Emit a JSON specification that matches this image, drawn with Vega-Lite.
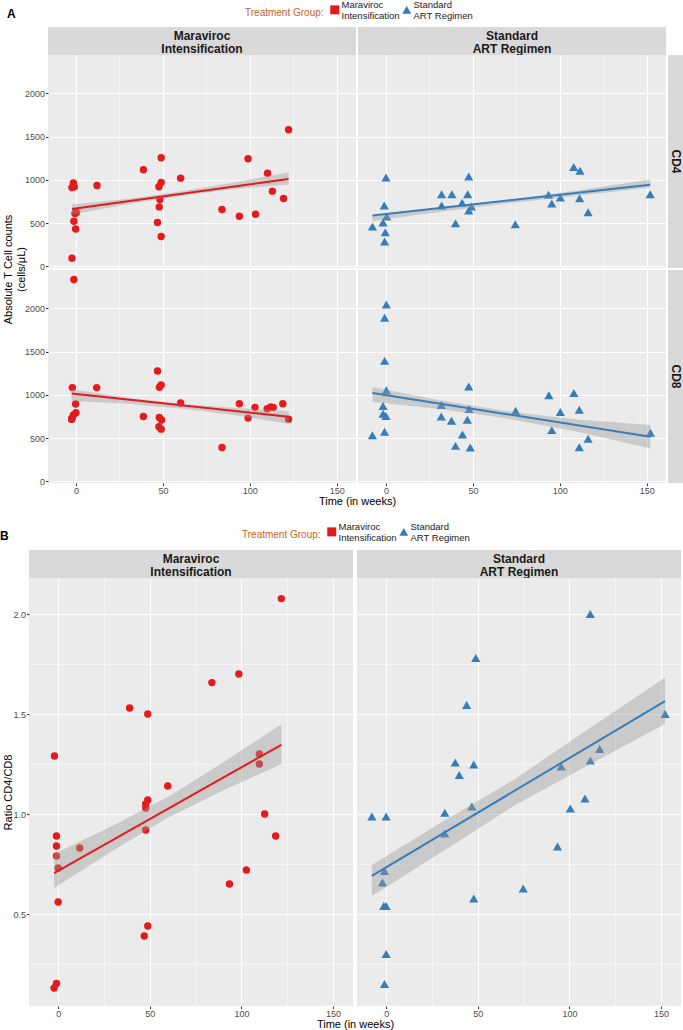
{
  "$schema": "https://vega.github.io/schema/vega-lite/v6.json",
  "padding": {"top": 5, "left": 0, "right": 0, "bottom": 0},
  "background": "#ffffff",
  "datasets": {
    "groups": [{"g": "MVC"}, {"g": "ART"}],
    "cd": [
      {"g":"MVC","c":"CD4","w":-1.5,"v":965},{"g":"MVC","c":"CD4","w":-2.3,"v":911},{"g":"MVC","c":"CD4","w":-1,"v":919},{"g":"MVC","c":"CD4","w":-0.6,"v":610},{"g":"MVC","c":"CD4","w":0.2,"v":622},{"g":"MVC","c":"CD4","w":-1.2,"v":521},{"g":"MVC","c":"CD4","w":-0.2,"v":432},{"g":"MVC","c":"CD4","w":-2.3,"v":93},{"g":"MVC","c":"CD4","w":12.1,"v":934},{"g":"MVC","c":"CD4","w":38.8,"v":1116},{"g":"MVC","c":"CD4","w":49,"v":1255},{"g":"MVC","c":"CD4","w":49,"v":969},{"g":"MVC","c":"CD4","w":47.7,"v":919},{"g":"MVC","c":"CD4","w":48.3,"v":772},{"g":"MVC","c":"CD4","w":47.9,"v":687},{"g":"MVC","c":"CD4","w":46.9,"v":506},{"g":"MVC","c":"CD4","w":49,"v":344},{"g":"MVC","c":"CD4","w":60.2,"v":1019},{"g":"MVC","c":"CD4","w":84,"v":656},{"g":"MVC","c":"CD4","w":99,"v":1243},{"g":"MVC","c":"CD4","w":94,"v":579},{"g":"MVC","c":"CD4","w":103.3,"v":602},{"g":"MVC","c":"CD4","w":110.2,"v":1077},{"g":"MVC","c":"CD4","w":113,"v":869},{"g":"MVC","c":"CD4","w":119.4,"v":784},{"g":"MVC","c":"CD4","w":122.3,"v":1579},
      {"g":"MVC","c":"CD8","w":-1.2,"v":2332},{"g":"MVC","c":"CD8","w":-2.1,"v":1083},{"g":"MVC","c":"CD8","w":11.9,"v":1083},{"g":"MVC","c":"CD8","w":-0.2,"v":894},{"g":"MVC","c":"CD8","w":0,"v":793},{"g":"MVC","c":"CD8","w":-1.5,"v":766},{"g":"MVC","c":"CD8","w":-2.5,"v":716},{"g":"MVC","c":"CD8","w":-2.3,"v":730},{"g":"MVC","c":"CD8","w":38.8,"v":750},{"g":"MVC","c":"CD8","w":46.9,"v":1276},{"g":"MVC","c":"CD8","w":48,"v":1087},{"g":"MVC","c":"CD8","w":49,"v":1114},{"g":"MVC","c":"CD8","w":47.9,"v":739},{"g":"MVC","c":"CD8","w":49.2,"v":708},{"g":"MVC","c":"CD8","w":47.7,"v":630},{"g":"MVC","c":"CD8","w":49,"v":603},{"g":"MVC","c":"CD8","w":60.2,"v":905},{"g":"MVC","c":"CD8","w":84,"v":391},{"g":"MVC","c":"CD8","w":94,"v":897},{"g":"MVC","c":"CD8","w":99,"v":731},{"g":"MVC","c":"CD8","w":103,"v":855},{"g":"MVC","c":"CD8","w":110,"v":839},{"g":"MVC","c":"CD8","w":112,"v":859},{"g":"MVC","c":"CD8","w":113.5,"v":855},{"g":"MVC","c":"CD8","w":119,"v":897},{"g":"MVC","c":"CD8","w":122.3,"v":719},
      {"g":"ART","c":"CD4","w":0,"v":1027},{"g":"ART","c":"CD4","w":-7.8,"v":459},{"g":"ART","c":"CD4","w":-1,"v":703},{"g":"ART","c":"CD4","w":0.4,"v":575},{"g":"ART","c":"CD4","w":-1.7,"v":506},{"g":"ART","c":"CD4","w":-0.4,"v":394},{"g":"ART","c":"CD4","w":-0.8,"v":286},{"g":"ART","c":"CD4","w":32,"v":834},{"g":"ART","c":"CD4","w":37.9,"v":834},{"g":"ART","c":"CD4","w":32,"v":703},{"g":"ART","c":"CD4","w":40,"v":498},{"g":"ART","c":"CD4","w":47.6,"v":1039},{"g":"ART","c":"CD4","w":47,"v":834},{"g":"ART","c":"CD4","w":43.8,"v":734},{"g":"ART","c":"CD4","w":49.1,"v":691},{"g":"ART","c":"CD4","w":47.6,"v":645},{"g":"ART","c":"CD4","w":74.4,"v":486},{"g":"ART","c":"CD4","w":93.5,"v":826},{"g":"ART","c":"CD4","w":95.4,"v":726},{"g":"ART","c":"CD4","w":100.3,"v":795},{"g":"ART","c":"CD4","w":108,"v":1147},{"g":"ART","c":"CD4","w":111.6,"v":1104},{"g":"ART","c":"CD4","w":111.4,"v":788},{"g":"ART","c":"CD4","w":116.3,"v":625},{"g":"ART","c":"CD4","w":152,"v":834},
      {"g":"ART","c":"CD8","w":0.2,"v":2042},{"g":"ART","c":"CD8","w":-0.8,"v":1891},{"g":"ART","c":"CD8","w":-0.8,"v":1392},{"g":"ART","c":"CD8","w":0.2,"v":1052},{"g":"ART","c":"CD8","w":-1.7,"v":870},{"g":"ART","c":"CD8","w":-1.7,"v":781},{"g":"ART","c":"CD8","w":0,"v":754},{"g":"ART","c":"CD8","w":-0.8,"v":572},{"g":"ART","c":"CD8","w":-7.8,"v":534},{"g":"ART","c":"CD8","w":31.8,"v":882},{"g":"ART","c":"CD8","w":31.8,"v":750},{"g":"ART","c":"CD8","w":37.7,"v":700},{"g":"ART","c":"CD8","w":44,"v":542},{"g":"ART","c":"CD8","w":40,"v":410},{"g":"ART","c":"CD8","w":47.6,"v":1095},{"g":"ART","c":"CD8","w":47.8,"v":835},{"g":"ART","c":"CD8","w":46.8,"v":712},{"g":"ART","c":"CD8","w":48.5,"v":391},{"g":"ART","c":"CD8","w":74.6,"v":816},{"g":"ART","c":"CD8","w":93.7,"v":994},{"g":"ART","c":"CD8","w":95.4,"v":592},{"g":"ART","c":"CD8","w":100.3,"v":801},{"g":"ART","c":"CD8","w":108.1,"v":1021},{"g":"ART","c":"CD8","w":111.2,"v":828},{"g":"ART","c":"CD8","w":111.2,"v":395},{"g":"ART","c":"CD8","w":116.3,"v":491},{"g":"ART","c":"CD8","w":152.1,"v":561}
    ],
    "ratio": [
      {"g":"MVC","w":121.8,"r":2.077},{"g":"MVC","w":98.6,"r":1.70},{"g":"MVC","w":83.9,"r":1.657},{"g":"MVC","w":39,"r":1.53},{"g":"MVC","w":48.9,"r":1.50},{"g":"MVC","w":-2,"r":1.29},{"g":"MVC","w":109.8,"r":1.30},{"g":"MVC","w":109.8,"r":1.25},{"g":"MVC","w":59.8,"r":1.14},{"g":"MVC","w":48.9,"r":1.07},{"g":"MVC","w":47.8,"r":1.05},{"g":"MVC","w":47.8,"r":1.03},{"g":"MVC","w":112.7,"r":1.00},{"g":"MVC","w":-0.9,"r":0.89},{"g":"MVC","w":-0.9,"r":0.84},{"g":"MVC","w":-0.9,"r":0.79},{"g":"MVC","w":0,"r":0.73},{"g":"MVC","w":11.8,"r":0.83},{"g":"MVC","w":47.8,"r":0.92},{"g":"MVC","w":118.7,"r":0.89},{"g":"MVC","w":102.7,"r":0.72},{"g":"MVC","w":93.5,"r":0.65},{"g":"MVC","w":0,"r":0.56},{"g":"MVC","w":48.9,"r":0.44},{"g":"MVC","w":47,"r":0.39},{"g":"MVC","w":-0.9,"r":0.153},{"g":"MVC","w":-2.2,"r":0.13},
      {"g":"ART","w":111.4,"r":2.00},{"g":"ART","w":48.9,"r":1.78},{"g":"ART","w":43.9,"r":1.545},{"g":"ART","w":152.2,"r":1.50},{"g":"ART","w":37.7,"r":1.257},{"g":"ART","w":47.8,"r":1.247},{"g":"ART","w":39.9,"r":1.195},{"g":"ART","w":116.5,"r":1.325},{"g":"ART","w":111.4,"r":1.267},{"g":"ART","w":95.5,"r":1.237},{"g":"ART","w":108.5,"r":1.078},{"g":"ART","w":100.5,"r":1.028},{"g":"ART","w":46.8,"r":1.037},{"g":"ART","w":32,"r":1.006},{"g":"ART","w":-7.8,"r":0.987},{"g":"ART","w":0,"r":0.987},{"g":"ART","w":32,"r":0.903},{"g":"ART","w":93.5,"r":0.837},{"g":"ART","w":-0.9,"r":0.715},{"g":"ART","w":-2,"r":0.657},{"g":"ART","w":-1.3,"r":0.54},{"g":"ART","w":0,"r":0.54},{"g":"ART","w":74.8,"r":0.628},{"g":"ART","w":47.8,"r":0.578},{"g":"ART","w":0,"r":0.30},{"g":"ART","w":-0.9,"r":0.15}
    ],
    "bandcd": [
      {"g":"MVC","c":"CD4","w":-2.3,"lo":598,"hi":714},{"g":"MVC","c":"CD4","w":30,"lo":720,"hi":782},{"g":"MVC","c":"CD4","w":60,"lo":816,"hi":864},{"g":"MVC","c":"CD4","w":90,"lo":890,"hi":966},{"g":"MVC","c":"CD4","w":122.3,"lo":946,"hi":1085},
      {"g":"MVC","c":"CD8","w":-2.5,"lo":928,"hi":1064},{"g":"MVC","c":"CD8","w":30,"lo":897,"hi":967},{"g":"MVC","c":"CD8","w":60,"lo":843,"hi":897},{"g":"MVC","c":"CD8","w":90,"lo":769,"hi":849},{"g":"MVC","c":"CD8","w":122.3,"lo":665,"hi":812},
      {"g":"ART","c":"CD4","w":-7.8,"lo":525,"hi":595},{"g":"ART","c":"CD4","w":30,"lo":627,"hi":677},{"g":"ART","c":"CD4","w":70,"lo":730,"hi":770},{"g":"ART","c":"CD4","w":110,"lo":817,"hi":877},{"g":"ART","c":"CD4","w":152.1,"lo":911,"hi":1004},
      {"g":"ART","c":"CD8","w":-7.8,"lo":917,"hi":1091},{"g":"ART","c":"CD8","w":30,"lo":840,"hi":940},{"g":"ART","c":"CD8","w":70,"lo":725,"hi":809},{"g":"ART","c":"CD8","w":110,"lo":574,"hi":714},{"g":"ART","c":"CD8","w":152.1,"lo":379,"hi":650}
    ],
    "bandratio": [
      {"g":"MVC","w":-2.2,"lo":0.63,"hi":0.80},{"g":"MVC","w":30,"lo":0.818,"hi":0.942},{"g":"MVC","w":60,"lo":0.982,"hi":1.086},{"g":"MVC","w":90,"lo":1.118,"hi":1.258},{"g":"MVC","w":121.8,"lo":1.25,"hi":1.447},
      {"g":"ART","w":-7.8,"lo":0.59,"hi":0.745},{"g":"ART","w":30,"lo":0.808,"hi":0.958},{"g":"ART","w":70,"lo":1.043,"hi":1.173},{"g":"ART","w":110,"lo":1.243,"hi":1.423},{"g":"ART","w":152.2,"lo":1.45,"hi":1.683}
    ]
  },
  "concat": [
    {
      "columns": 4,
      "bounds": "flush",
      "spacing": {"row": 0, "column": 2},
      "resolve": {"scale": {"color": "independent", "shape": "independent"}, "legend": {"color": "independent", "shape": "independent"}},
      "concat": [
        {"width": 17, "height": 28, "data": {"values": []}, "mark": "text", "encoding": {}},
        {
          "width": 308, "height": 28,
          "view": {"fill": "#d9d9d9", "stroke": null},
          "title": {"text": "A", "anchor": "start", "frame": "group", "dx": -41, "offset": 6, "fontSize": 12, "fontWeight": "bold", "color": "#000000", "font": "Liberation Sans"},
          "data": {"values": [{"label": "Maraviroc\nIntensification"}]},
          "mark": {"type": "text", "lineBreak": "\n", "baseline": "bottom", "dy": 2, "fontSize": 12, "fontWeight": "bold", "color": "#1a1a1a", "lineHeight": 13, "font": "Liberation Sans"},
          "encoding": {"text": {"field": "label", "type": "nominal"}}
        },
        {
          "width": 308, "height": 28,
          "view": {"fill": "#d9d9d9", "stroke": null},
          "layer": [
            {
              "data": {"values": [{"label": "Standard\nART Regimen"}]},
              "mark": {"type": "text", "lineBreak": "\n", "baseline": "bottom", "dy": 2, "fontSize": 12, "fontWeight": "bold", "color": "#1a1a1a", "lineHeight": 13, "font": "Liberation Sans"},
              "encoding": {"text": {"field": "label", "type": "nominal"}}
            },
            {
              "data": {"name": "groups"},
              "mark": {"type": "point", "filled": true, "opacity": 0},
              "encoding": {
                "color": {"field": "g", "type": "nominal", "scale": {"domain": ["MVC", "ART"], "range": ["#e41a1c", "#377eb8"]},
                  "legend": {"orient": "none", "legendX": -113, "legendY": -22, "direction": "horizontal", "title": "Treatment Group:", "titleOrient": "left", "titleAnchor": "middle", "titleBaseline": "middle", "titleColor": "#c8622a", "titleFontSize": 10, "titleFontWeight": "normal", "titleFont": "Liberation Sans", "titlePadding": 6, "labelExpr": "datum.value === 'MVC' ? ['Maraviroc','Intensification'] : ['Standard','ART Regimen']", "labelBaseline": "bottom", "labelFont": "Liberation Sans", "labelFontSize": 9.5, "labelColor": "#1a1a1a", "labelOffset": 2, "symbolSize": 81, "symbolOpacity": 1, "symbolStrokeWidth": 0, "columnPadding": 2, "padding": 0}},
                "shape": {"field": "g", "type": "nominal", "scale": {"domain": ["MVC", "ART"], "range": ["square", "triangle-up"]},
                  "legend": {"orient": "none", "legendX": -113, "legendY": -22, "direction": "horizontal", "title": "Treatment Group:", "titleOrient": "left", "titleAnchor": "middle", "titleBaseline": "middle", "titleColor": "#c8622a", "titleFontSize": 10, "titleFontWeight": "normal", "titleFont": "Liberation Sans", "titlePadding": 6, "labelExpr": "datum.value === 'MVC' ? ['Maraviroc','Intensification'] : ['Standard','ART Regimen']", "labelBaseline": "bottom", "labelFont": "Liberation Sans", "labelFontSize": 9.5, "labelColor": "#1a1a1a", "labelOffset": 2, "symbolSize": 81, "symbolOpacity": 1, "symbolStrokeWidth": 0, "columnPadding": 2, "padding": 0}}
              }
            }
          ]
        },
        {"width": 15, "height": 28, "data": {"values": []}, "mark": "text", "encoding": {}},
        {"width": 17, "height": 213, "data": {"values": []}, "mark": "text", "encoding": {}},
        {
          "width": 308, "height": 213,
          "view": {"fill": "#ebebeb", "stroke": null},
          "layer": [
            {
              "data": {"name": "cd"},
              "transform": [{"filter": "datum.g === 'MVC' && datum.c === 'CD4'"}],
              "mark": {"type": "point", "filled": true, "shape": "circle", "size": 55, "color": "#e41a1c", "opacity": 1},
              "encoding": {
                "x": {"field": "w", "type": "quantitative", "scale": {"domain": [-16.1, 161.1], "nice": false, "zero": false},
                  "axis": {"values": [0, 25, 50, 75, 100, 125, 150], "grid": true, "gridColor": "#ffffff", "gridWidth": {"condition": {"test": "datum.value % 50 === 0", "value": 1.1}, "value": 0.5}, "labels": false, "ticks": false, "domain": false, "title": null}},
                "y": {"field": "v", "type": "quantitative", "scale": {"domain": [-19, 2442], "nice": false, "zero": false},
                  "axis": {"values": [0, 250, 500, 750, 1000, 1250, 1500, 1750, 2000, 2250], "format": "d", "labelExpr": "datum.value % 500 === 0 ? datum.label : ''", "labelOverlap": false, "grid": true, "gridColor": "#ffffff", "gridWidth": {"condition": {"test": "datum.value % 500 === 0", "value": 1.1}, "value": 0.5}, "tickOpacity": {"condition": {"test": "datum.value % 500 === 0", "value": 1}, "value": 0}, "title": ["Absolute T Cell counts", "(cells/μL)"], "titleY": 214, "titleAlign": "center", "titlePadding": -2, "titleLineHeight": 13}}
              }
            },
            {
              "data": {"name": "bandcd"},
              "transform": [{"filter": "datum.g === 'MVC' && datum.c === 'CD4'"}],
              "mark": {"type": "area", "color": "#999999", "opacity": 0.4},
              "encoding": {"x": {"field": "w", "type": "quantitative"}, "y": {"field": "lo", "type": "quantitative"}, "y2": {"field": "hi"}}
            },
            {
              "data": {"name": "cd"},
              "transform": [{"filter": "datum.g === 'MVC' && datum.c === 'CD4'"}, {"regression": "v", "on": "w"}],
              "mark": {"type": "line", "color": "#e41a1c", "strokeWidth": 2},
              "encoding": {"x": {"field": "w", "type": "quantitative"}, "y": {"field": "v", "type": "quantitative"}}
            }
          ]
        },
        {
          "width": 308, "height": 213,
          "view": {"fill": "#ebebeb", "stroke": null},
          "layer": [
            {
              "data": {"name": "cd"},
              "transform": [{"filter": "datum.g === 'ART' && datum.c === 'CD4'"}],
              "mark": {"type": "point", "filled": true, "shape": "triangle-up", "size": 85, "color": "#377eb8", "opacity": 1},
              "encoding": {
                "x": {"field": "w", "type": "quantitative", "scale": {"domain": [-16.1, 161.1], "nice": false, "zero": false},
                  "axis": {"values": [0, 25, 50, 75, 100, 125, 150], "grid": true, "gridColor": "#ffffff", "gridWidth": {"condition": {"test": "datum.value % 50 === 0", "value": 1.1}, "value": 0.5}, "labels": false, "ticks": false, "domain": false, "title": null}},
                "y": {"field": "v", "type": "quantitative", "scale": {"domain": [-19, 2442], "nice": false, "zero": false},
                  "axis": {"values": [0, 250, 500, 750, 1000, 1250, 1500, 1750, 2000, 2250], "grid": true, "gridColor": "#ffffff", "gridWidth": {"condition": {"test": "datum.value % 500 === 0", "value": 1.1}, "value": 0.5}, "labels": false, "ticks": false, "domain": false, "title": null}}
              }
            },
            {
              "data": {"name": "bandcd"},
              "transform": [{"filter": "datum.g === 'ART' && datum.c === 'CD4'"}],
              "mark": {"type": "area", "color": "#999999", "opacity": 0.4},
              "encoding": {"x": {"field": "w", "type": "quantitative"}, "y": {"field": "lo", "type": "quantitative"}, "y2": {"field": "hi"}}
            },
            {
              "data": {"name": "cd"},
              "transform": [{"filter": "datum.g === 'ART' && datum.c === 'CD4'"}, {"regression": "v", "on": "w"}],
              "mark": {"type": "line", "color": "#377eb8", "strokeWidth": 2},
              "encoding": {"x": {"field": "w", "type": "quantitative"}, "y": {"field": "v", "type": "quantitative"}}
            }
          ]
        },
        {
          "width": 15, "height": 213,
          "view": {"fill": "#d9d9d9", "stroke": null},
          "data": {"values": [{"label": "CD4"}]},
          "mark": {"type": "text", "angle": 90, "fontSize": 12, "fontWeight": "bold", "color": "#1a1a1a", "font": "Liberation Sans"},
          "encoding": {"text": {"field": "label", "type": "nominal"}}
        },
        {"width": 17, "height": 2, "data": {"values": []}, "mark": "text", "encoding": {}},
        {"width": 308, "height": 2, "data": {"values": []}, "mark": "text", "encoding": {}},
        {"width": 308, "height": 2, "data": {"values": []}, "mark": "text", "encoding": {}},
        {"width": 15, "height": 2, "data": {"values": []}, "mark": "text", "encoding": {}},
        {"width": 17, "height": 213, "data": {"values": []}, "mark": "text", "encoding": {}},
        {
          "width": 308, "height": 213,
          "view": {"fill": "#ebebeb", "stroke": null},
          "layer": [
            {
              "data": {"name": "cd"},
              "transform": [{"filter": "datum.g === 'MVC' && datum.c === 'CD8'"}],
              "mark": {"type": "point", "filled": true, "shape": "circle", "size": 55, "color": "#e41a1c", "opacity": 1},
              "encoding": {
                "x": {"field": "w", "type": "quantitative", "scale": {"domain": [-16.1, 161.1], "nice": false, "zero": false},
                  "axis": {"values": [0, 25, 50, 75, 100, 125, 150], "grid": true, "gridColor": "#ffffff", "gridWidth": {"condition": {"test": "datum.value % 50 === 0", "value": 1.1}, "value": 0.5}, "labelExpr": "datum.value % 50 === 0 ? datum.label : ''", "labelOverlap": false, "tickOpacity": {"condition": {"test": "datum.value % 50 === 0", "value": 1}, "value": 0}, "title": "Time  (in weeks)", "titleX": 309, "titleAlign": "center", "titlePadding": 0}},
                "y": {"field": "v", "type": "quantitative", "scale": {"domain": [-19, 2442], "nice": false, "zero": false},
                  "axis": {"values": [0, 250, 500, 750, 1000, 1250, 1500, 1750, 2000, 2250], "format": "d", "labelExpr": "datum.value % 500 === 0 ? datum.label : ''", "labelOverlap": false, "grid": true, "gridColor": "#ffffff", "gridWidth": {"condition": {"test": "datum.value % 500 === 0", "value": 1.1}, "value": 0.5}, "tickOpacity": {"condition": {"test": "datum.value % 500 === 0", "value": 1}, "value": 0}, "title": null}}
              }
            },
            {
              "data": {"name": "bandcd"},
              "transform": [{"filter": "datum.g === 'MVC' && datum.c === 'CD8'"}],
              "mark": {"type": "area", "color": "#999999", "opacity": 0.4},
              "encoding": {"x": {"field": "w", "type": "quantitative"}, "y": {"field": "lo", "type": "quantitative"}, "y2": {"field": "hi"}}
            },
            {
              "data": {"name": "cd"},
              "transform": [{"filter": "datum.g === 'MVC' && datum.c === 'CD8'"}, {"regression": "v", "on": "w"}],
              "mark": {"type": "line", "color": "#e41a1c", "strokeWidth": 2},
              "encoding": {"x": {"field": "w", "type": "quantitative"}, "y": {"field": "v", "type": "quantitative"}}
            }
          ]
        },
        {
          "width": 308, "height": 213,
          "view": {"fill": "#ebebeb", "stroke": null},
          "layer": [
            {
              "data": {"name": "cd"},
              "transform": [{"filter": "datum.g === 'ART' && datum.c === 'CD8'"}],
              "mark": {"type": "point", "filled": true, "shape": "triangle-up", "size": 85, "color": "#377eb8", "opacity": 1},
              "encoding": {
                "x": {"field": "w", "type": "quantitative", "scale": {"domain": [-16.1, 161.1], "nice": false, "zero": false},
                  "axis": {"values": [0, 25, 50, 75, 100, 125, 150], "grid": true, "gridColor": "#ffffff", "gridWidth": {"condition": {"test": "datum.value % 50 === 0", "value": 1.1}, "value": 0.5}, "labelExpr": "datum.value % 50 === 0 ? datum.label : ''", "labelOverlap": false, "tickOpacity": {"condition": {"test": "datum.value % 50 === 0", "value": 1}, "value": 0}, "title": null}},
                "y": {"field": "v", "type": "quantitative", "scale": {"domain": [-19, 2442], "nice": false, "zero": false},
                  "axis": {"values": [0, 250, 500, 750, 1000, 1250, 1500, 1750, 2000, 2250], "grid": true, "gridColor": "#ffffff", "gridWidth": {"condition": {"test": "datum.value % 500 === 0", "value": 1.1}, "value": 0.5}, "labels": false, "ticks": false, "domain": false, "title": null}}
              }
            },
            {
              "data": {"name": "bandcd"},
              "transform": [{"filter": "datum.g === 'ART' && datum.c === 'CD8'"}],
              "mark": {"type": "area", "color": "#999999", "opacity": 0.4},
              "encoding": {"x": {"field": "w", "type": "quantitative"}, "y": {"field": "lo", "type": "quantitative"}, "y2": {"field": "hi"}}
            },
            {
              "data": {"name": "cd"},
              "transform": [{"filter": "datum.g === 'ART' && datum.c === 'CD8'"}, {"regression": "v", "on": "w"}],
              "mark": {"type": "line", "color": "#377eb8", "strokeWidth": 2},
              "encoding": {"x": {"field": "w", "type": "quantitative"}, "y": {"field": "v", "type": "quantitative"}}
            }
          ]
        },
        {
          "width": 15, "height": 213,
          "view": {"fill": "#d9d9d9", "stroke": null},
          "data": {"values": [{"label": "CD8"}]},
          "mark": {"type": "text", "angle": 90, "fontSize": 12, "fontWeight": "bold", "color": "#1a1a1a", "font": "Liberation Sans"},
          "encoding": {"text": {"field": "label", "type": "nominal"}}
        }
      ]
    },
    {
      "columns": 2,
      "bounds": "flush",
      "spacing": {"row": 0, "column": 4},
      "resolve": {"scale": {"color": "independent", "shape": "independent"}, "legend": {"color": "independent", "shape": "independent"}},
      "concat": [
        {
          "width": 324, "height": 28,
          "view": {"fill": "#d9d9d9", "stroke": null},
          "title": {"text": "B", "anchor": "start", "frame": "group", "dx": -29, "offset": 7, "fontSize": 12, "fontWeight": "bold", "color": "#000000", "font": "Liberation Sans"},
          "data": {"values": [{"label": "Maraviroc\nIntensification"}]},
          "mark": {"type": "text", "lineBreak": "\n", "baseline": "bottom", "dy": 2, "fontSize": 12, "fontWeight": "bold", "color": "#1a1a1a", "lineHeight": 13, "font": "Liberation Sans"},
          "encoding": {"text": {"field": "label", "type": "nominal"}}
        },
        {
          "width": 324, "height": 28,
          "view": {"fill": "#d9d9d9", "stroke": null},
          "layer": [
            {
              "data": {"values": [{"label": "Standard\nART Regimen"}]},
              "mark": {"type": "text", "lineBreak": "\n", "baseline": "bottom", "dy": 2, "fontSize": 12, "fontWeight": "bold", "color": "#1a1a1a", "lineHeight": 13, "font": "Liberation Sans"},
              "encoding": {"text": {"field": "label", "type": "nominal"}}
            },
            {
              "data": {"name": "groups"},
              "mark": {"type": "point", "filled": true, "opacity": 0},
              "encoding": {
                "color": {"field": "g", "type": "nominal", "scale": {"domain": ["MVC", "ART"], "range": ["#e41a1c", "#377eb8"]},
                  "legend": {"orient": "none", "legendX": -115, "legendY": -23, "direction": "horizontal", "title": "Treatment Group:", "titleOrient": "left", "titleAnchor": "middle", "titleBaseline": "middle", "titleColor": "#c8622a", "titleFontSize": 10, "titleFontWeight": "normal", "titleFont": "Liberation Sans", "titlePadding": 6, "labelExpr": "datum.value === 'MVC' ? ['Maraviroc','Intensification'] : ['Standard','ART Regimen']", "labelBaseline": "bottom", "labelFont": "Liberation Sans", "labelFontSize": 9.5, "labelColor": "#1a1a1a", "labelOffset": 2, "symbolSize": 81, "symbolOpacity": 1, "symbolStrokeWidth": 0, "columnPadding": 2, "padding": 0}},
                "shape": {"field": "g", "type": "nominal", "scale": {"domain": ["MVC", "ART"], "range": ["square", "triangle-up"]},
                  "legend": {"orient": "none", "legendX": -115, "legendY": -23, "direction": "horizontal", "title": "Treatment Group:", "titleOrient": "left", "titleAnchor": "middle", "titleBaseline": "middle", "titleColor": "#c8622a", "titleFontSize": 10, "titleFontWeight": "normal", "titleFont": "Liberation Sans", "titlePadding": 6, "labelExpr": "datum.value === 'MVC' ? ['Maraviroc','Intensification'] : ['Standard','ART Regimen']", "labelBaseline": "bottom", "labelFont": "Liberation Sans", "labelFontSize": 9.5, "labelColor": "#1a1a1a", "labelOffset": 2, "symbolSize": 81, "symbolOpacity": 1, "symbolStrokeWidth": 0, "columnPadding": 2, "padding": 0}}
              }
            }
          ]
        },
        {
          "width": 324, "height": 428,
          "view": {"fill": "#ebebeb", "stroke": null},
          "layer": [
            {
              "data": {"name": "ratio"},
              "transform": [{"filter": "datum.g === 'MVC'"}],
              "mark": {"type": "point", "filled": true, "shape": "circle", "size": 55, "color": "#e41a1c", "opacity": 1},
              "encoding": {
                "x": {"field": "w", "type": "quantitative", "scale": {"domain": [-15.9, 160.9], "nice": false, "zero": false},
                  "axis": {"values": [0, 25, 50, 75, 100, 125, 150], "grid": true, "gridColor": "#ffffff", "gridWidth": {"condition": {"test": "datum.value % 50 === 0", "value": 1.1}, "value": 0.5}, "labelExpr": "datum.value % 50 === 0 ? datum.label : ''", "labelOverlap": false, "tickOpacity": {"condition": {"test": "datum.value % 50 === 0", "value": 1}, "value": 0}, "title": "Time  (in weeks)", "titleX": 326, "titleAlign": "center", "titlePadding": 0}},
                "y": {"field": "r", "type": "quantitative", "scale": {"domain": [0.04, 2.18], "nice": false, "zero": false},
                  "axis": {"values": [0.25, 0.5, 0.75, 1, 1.25, 1.5, 1.75, 2], "format": ".1f", "labelExpr": "abs(datum.value * 2 - round(datum.value * 2)) < 0.001 ? datum.label : ''", "labelOverlap": false, "grid": true, "gridColor": "#ffffff", "gridWidth": {"condition": {"test": "abs(datum.value * 2 - round(datum.value * 2)) < 0.001", "value": 1.1}, "value": 0.5}, "tickOpacity": {"condition": {"test": "abs(datum.value * 2 - round(datum.value * 2)) < 0.001", "value": 1}, "value": 0}, "title": "Ratio CD4/CD8", "titlePadding": -1}}
              }
            },
            {
              "data": {"name": "bandratio"},
              "transform": [{"filter": "datum.g === 'MVC'"}],
              "mark": {"type": "area", "color": "#999999", "opacity": 0.4},
              "encoding": {"x": {"field": "w", "type": "quantitative"}, "y": {"field": "lo", "type": "quantitative"}, "y2": {"field": "hi"}}
            },
            {
              "data": {"name": "ratio"},
              "transform": [{"filter": "datum.g === 'MVC'"}, {"regression": "r", "on": "w"}],
              "mark": {"type": "line", "color": "#e41a1c", "strokeWidth": 2},
              "encoding": {"x": {"field": "w", "type": "quantitative"}, "y": {"field": "r", "type": "quantitative"}}
            }
          ]
        },
        {
          "width": 324, "height": 428,
          "view": {"fill": "#ebebeb", "stroke": null},
          "layer": [
            {
              "data": {"name": "ratio"},
              "transform": [{"filter": "datum.g === 'ART'"}],
              "mark": {"type": "point", "filled": true, "shape": "triangle-up", "size": 85, "color": "#377eb8", "opacity": 1},
              "encoding": {
                "x": {"field": "w", "type": "quantitative", "scale": {"domain": [-15.9, 160.9], "nice": false, "zero": false},
                  "axis": {"values": [0, 25, 50, 75, 100, 125, 150], "grid": true, "gridColor": "#ffffff", "gridWidth": {"condition": {"test": "datum.value % 50 === 0", "value": 1.1}, "value": 0.5}, "labelExpr": "datum.value % 50 === 0 ? datum.label : ''", "labelOverlap": false, "tickOpacity": {"condition": {"test": "datum.value % 50 === 0", "value": 1}, "value": 0}, "title": null}},
                "y": {"field": "r", "type": "quantitative", "scale": {"domain": [0.04, 2.18], "nice": false, "zero": false},
                  "axis": {"values": [0.25, 0.5, 0.75, 1, 1.25, 1.5, 1.75, 2], "grid": true, "gridColor": "#ffffff", "gridWidth": {"condition": {"test": "abs(datum.value * 2 - round(datum.value * 2)) < 0.001", "value": 1.1}, "value": 0.5}, "labels": false, "ticks": false, "domain": false, "title": null}}
              }
            },
            {
              "data": {"name": "bandratio"},
              "transform": [{"filter": "datum.g === 'ART'"}],
              "mark": {"type": "area", "color": "#999999", "opacity": 0.4},
              "encoding": {"x": {"field": "w", "type": "quantitative"}, "y": {"field": "lo", "type": "quantitative"}, "y2": {"field": "hi"}}
            },
            {
              "data": {"name": "ratio"},
              "transform": [{"filter": "datum.g === 'ART'"}, {"regression": "r", "on": "w"}],
              "mark": {"type": "line", "color": "#377eb8", "strokeWidth": 2},
              "encoding": {"x": {"field": "w", "type": "quantitative"}, "y": {"field": "r", "type": "quantitative"}}
            }
          ]
        }
      ]
    }
  ],
  "columns": 1,
  "spacing": 20,
  "resolve": {"scale": {"color": "independent", "shape": "independent"}, "legend": {"color": "independent", "shape": "independent"}},
  "config": {
    "font": "Liberation Sans",
    "view": {"stroke": null},
    "axis": {"domain": false, "labelFont": "Liberation Sans", "labelFontSize": 9, "labelColor": "#4d4d4d", "labelPadding": 1, "tickColor": "#333333", "tickSize": 2.5, "tickWidth": 1, "titleFont": "Liberation Sans", "titleFontSize": 11, "titleFontWeight": "normal", "titleColor": "#000000"},
    "legend": {"labelFont": "Liberation Sans", "titleFont": "Liberation Sans"}
  }
}
